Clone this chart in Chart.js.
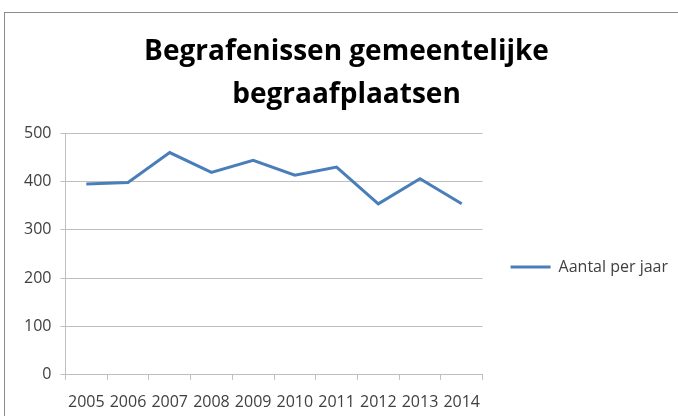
<!DOCTYPE html>
<html>
<head>
<meta charset="utf-8">
<script src="https://cdn.jsdelivr.net/npm/chart.js@4"></script>
<style>
  html, body { margin: 0; padding: 0; background: #fff; overflow: hidden; }
  #frame { position: absolute; left: 4px; top: 12px; width: 700px; height: 440px; border: 1px solid #8c8c8c; }
  #wrap { position: absolute; left: 0; top: 0; width: 678px; height: 416px; }
</style>
</head>
<body>
<div id="frame"></div>
<div id="wrap"><canvas id="begrafenissen-chart"></canvas></div>
<script>
const years = ["2005", "2006", "2007", "2008", "2009", "2010", "2011", "2012", "2013", "2014"];
const aantalPerJaar = [395, 398, 460, 419, 444, 413, 430, 354, 406, 354];
const titleLines = ["Begrafenissen gemeentelijke", "begraafplaatsen"];
const seriesLabel = "Aantal per jaar";

const labelColor = "#404040";
const gridColor = "#bfbfbf";

Chart.defaults.font.family = "'Open Sans', sans-serif";

let initChart = () => {
    const ctx = "begrafenissen-chart";

    // Chart Options
    const chartOptions = {
        responsive: true,
        maintainAspectRatio: false,
        animation: false,
        layout: {
            padding: { left: 15, right: 0, top: 30, bottom: -9 }
        },
        plugins: {
            title: {
                display: true,
                text: titleLines,
                color: "#000",
                font: { size: 28, weight: "bold", lineHeight: 1.54 },
                padding: { top: 0, bottom: 17 }
            },
            legend: {
                position: "right",
                fullSize: false,
                maxWidth: 220,
                title: {
                    display: true,
                    text: " ",
                    font: { size: 10, lineHeight: 1.2 },
                    padding: { top: 14, bottom: 0 }
                },
                labels: {
                    color: labelColor,
                    font: { size: 16 },
                    usePointStyle: true,
                    pointStyle: "line",
                    pointStyleWidth: 40,
                    padding: 28
                }
            },
            tooltip: { enabled: false }
        },
        scales: {
            x: {
                offset: true,
                grid: {
                    offset: true,
                    drawOnChartArea: false,
                    drawTicks: true,
                    tickLength: 5,
                    color: gridColor
                },
                border: { color: gridColor },
                ticks: {
                    color: labelColor,
                    font: { size: 16 },
                    maxRotation: 0,
                    autoSkip: false,
                    padding: 13
                }
            },
            y: {
                min: 0,
                max: 500,
                grid: {
                    color: gridColor,
                    tickLength: 5
                },
                border: { color: gridColor },
                ticks: {
                    stepSize: 100,
                    color: labelColor,
                    font: { size: 16 },
                    padding: 9
                }
            }
        }
    };

    // Chart Config
    let config = {
        type: "line",
        options: chartOptions,
        data: {
            labels: years,
            datasets: [
                {
                    label: seriesLabel,
                    data: aantalPerJaar,
                    borderColor: "#4a7ebb",
                    backgroundColor: "#4a7ebb",
                    borderWidth: 3,
                    pointRadius: 0,
                    tension: 0,
                    fill: false
                }
            ]
        }
    };

    new Chart(ctx, config);
};

initChart();
</script>
</body>
</html>
